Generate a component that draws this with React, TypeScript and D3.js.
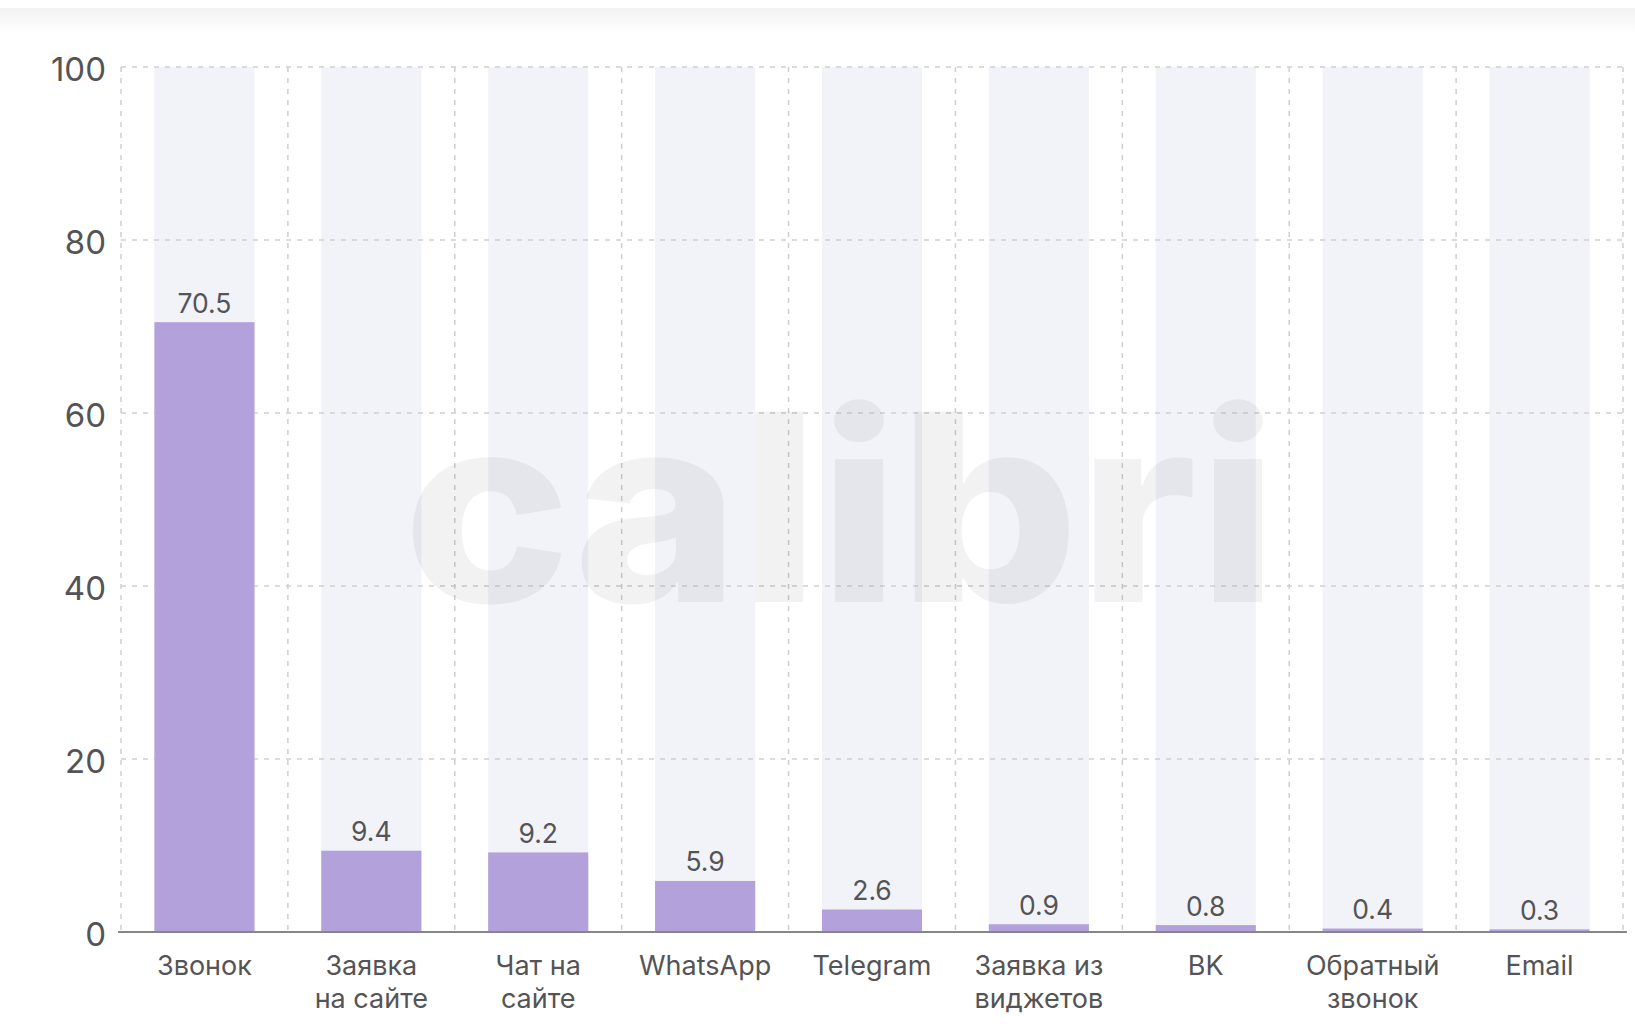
import React from "react";
import * as d3 from "d3";

const categories: string[][] = [
  ["Звонок"],
  ["Заявка", "на сайте"],
  ["Чат на", "сайте"],
  ["WhatsApp"],
  ["Telegram"],
  ["Заявка из", "виджетов"],
  ["BK"],
  ["Обратный", "звонок"],
  ["Email"],
];
const values: number[] = [70.5, 9.4, 9.2, 5.9, 2.6, 0.9, 0.8, 0.4, 0.3];
const yTicks: number[] = [0, 20, 40, 60, 80, 100];

const W = 1635;
const H = 1032;
const left = 121;
const right = 1623;
const top = 67;
const bottom = 932;
const FONT = "Inter, 'Noto Sans', sans-serif";
const TEXT = "#545457";

export default function App() {
  const keys = categories.map((c) => c.join(" "));
  const x = d3.scaleBand<string>().domain(keys).range([left, right]).padding(0);
  const y = d3.scaleLinear().domain([0, 100]).range([bottom, top]);
  const bw = x.bandwidth() * 0.6;
  const boundaries = [...keys.map((k) => x(k) as number), right];

  return (
    <div style={{ position: "absolute", left: 0, top: 0, width: W, height: H, background: "#fff" }}>
      <svg width={W} height={H} style={{ display: "block" }}>
        <defs>
          <linearGradient id="topshade" x1="0" y1="0" x2="0" y2="1">
            <stop offset="0" stopColor="#f2f2f3" />
            <stop offset="1" stopColor="#ffffff" />
          </linearGradient>
        </defs>
        <rect x={0} y={0} width={W} height={H} fill="#fff" />
        <rect x={0} y={8} width={W} height={26} fill="url(#topshade)" />

        {/* column backgrounds */}
        {keys.map((k) => (
          <rect
            key={"bg" + k}
            x={(x(k) as number) + (x.bandwidth() - bw) / 2}
            y={y(100)}
            width={bw}
            height={y(0) - y(100)}
            fill="#f2f3f8"
          />
        ))}

        {/* horizontal grid */}
        {yTicks
          .filter((t) => t > 0)
          .map((t) => (
            <line
              key={"h" + t}
              x1={left}
              x2={right + 4}
              y1={y(t)}
              y2={y(t)}
              stroke="#cfcfd2"
              strokeWidth={1.5}
              strokeDasharray="5 6"
            />
          ))}
        {/* vertical grid */}
        {boundaries.map((bx, i) => (
          <line
            key={"v" + i}
            x1={bx}
            x2={bx}
            y1={y(100)}
            y2={y(0)}
            stroke="#cfcfd2"
            strokeWidth={1.5}
            strokeDasharray="5 6"
          />
        ))}

        {/* watermark */}
        <text
          x={403}
          y={602}
          fontFamily={FONT}
          fontWeight={800}
          fontSize={262}
          textLength={875}
          lengthAdjust="spacingAndGlyphs"
          fill="#000"
          fillOpacity={0.05}
        >
          calibri
        </text>

        {/* bars */}
        {keys.map((k, i) => (
          <rect
            key={"bar" + k}
            x={(x(k) as number) + (x.bandwidth() - bw) / 2}
            y={y(values[i])}
            width={bw}
            height={y(0) - y(values[i])}
            fill="#b3a1db"
          />
        ))}

        {/* axis line */}
        <line x1={left - 3} x2={right + 4} y1={y(0)} y2={y(0)} stroke="#85858c" strokeWidth={2} />

        {/* y tick labels */}
        {yTicks.map((t) => (
          <text
            key={"yt" + t}
            x={106}
            y={y(t)}
            dy="0.42em"
            textAnchor="end"
            fontFamily={FONT}
            fontSize={33}
            fill={TEXT}
          >
            {t}
          </text>
        ))}

        {/* value labels */}
        {keys.map((k, i) => (
          <text
            key={"vl" + k}
            x={(x(k) as number) + x.bandwidth() / 2}
            y={y(values[i]) - 9.5}
            textAnchor="middle"
            fontFamily={FONT}
            fontSize={26.5}
            fill={TEXT}
          >
            {values[i].toFixed(1)}
          </text>
        ))}

        {/* category labels */}
        {categories.map((lines, i) => (
          <text
            key={"cl" + i}
            x={(x(keys[i]) as number) + x.bandwidth() / 2}
            y={975}
            textAnchor="middle"
            fontFamily={FONT}
            fontSize={27}
            fill={TEXT}
          >
            {lines.map((ln, j) => (
              <tspan key={j} x={(x(keys[i]) as number) + x.bandwidth() / 2} dy={j === 0 ? 0 : 33}>
                {ln}
              </tspan>
            ))}
          </text>
        ))}
      </svg>
    </div>
  );
}
